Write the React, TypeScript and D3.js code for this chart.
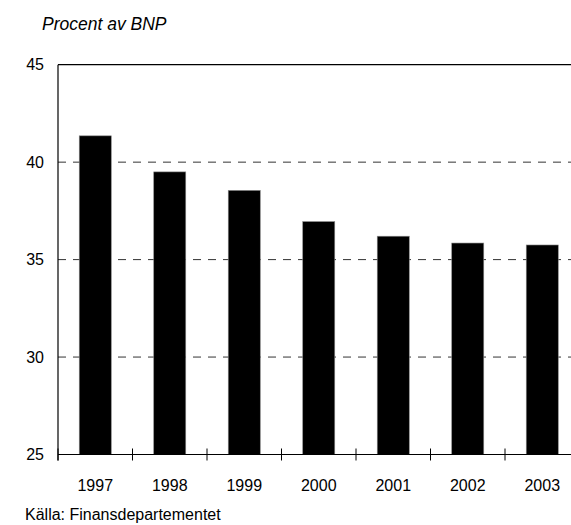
import React from "react";
import * as d3 from "d3";

const years = ["1997", "1998", "1999", "2000", "2001", "2002", "2003"];
const values = [41.35, 39.5, 38.55, 36.95, 36.2, 35.85, 35.75];
const yTicks = [25, 30, 35, 40, 45];
const gridTicks = [30, 35, 40];
const title = "Procent av BNP";
const source = "Källa: Finansdepartementet";

const W = 571;
const H = 525;
const FONT = "'Liberation Sans', Arial, sans-serif";

export default function App() {
  const x0 = 58;
  const step = 74.5;
  const x = d3
    .scaleBand<string>()
    .domain(years)
    .range([x0, x0 + step * years.length])
    .paddingInner(0.57)
    .paddingOuter(0.285);
  const y = d3.scaleLinear().domain([25, 45]).range([454.5, 64.7]);
  const bottom = y(25);
  const top = y(45);
  const xRight = x0 + step * years.length;
  const boundaries = d3.range(years.length + 1).map((i) => x0 + i * x.step());

  return (
    <svg
      width={W}
      height={H}
      style={{ position: "absolute", left: 0, top: 0, background: "#fff" }}
      fontFamily={FONT}
    >
      <text x={42} y={30} fontSize={17.5} fontStyle="italic" fill="#000">
        {title}
      </text>
      {gridTicks.map((t) => (
        <line
          key={t}
          x1={x0}
          x2={xRight}
          y1={y(t)}
          y2={y(t)}
          stroke="#333"
          strokeWidth={1}
          strokeDasharray="8,7"
        />
      ))}
      <line x1={x0} x2={xRight} y1={top} y2={top} stroke="#000" strokeWidth={1.2} />
      {years.map((yr, i) => (
        <rect
          key={yr}
          x={x(yr)}
          y={y(values[i])}
          width={x.bandwidth()}
          height={bottom - y(values[i])}
          fill="#000"
          stroke="#888"
          strokeWidth={0.6}
        />
      ))}
      <line x1={x0} x2={x0} y1={top} y2={bottom + 6} stroke="#000" strokeWidth={1.2} />
      <line x1={x0} x2={xRight} y1={bottom} y2={bottom} stroke="#000" strokeWidth={1.2} />
      {boundaries.map((b, i) => (
        <line key={i} x1={b} x2={b} y1={bottom - 6} y2={bottom + 6} stroke="#000" strokeWidth={1} />
      ))}
      {yTicks.map((t) => (
        <text
          key={t}
          x={44}
          y={y(t)}
          dy="0.36em"
          textAnchor="end"
          fontSize={16}
          fill="#000"
        >
          {t}
        </text>
      ))}
      {years.map((yr) => (
        <text
          key={yr}
          x={(x(yr) as number) + x.bandwidth() / 2}
          y={491}
          textAnchor="middle"
          fontSize={16}
          fill="#000"
        >
          {yr}
        </text>
      ))}
      <text x={25} y={520} fontSize={16} fill="#000">
        {source}
      </text>
    </svg>
  );
}
